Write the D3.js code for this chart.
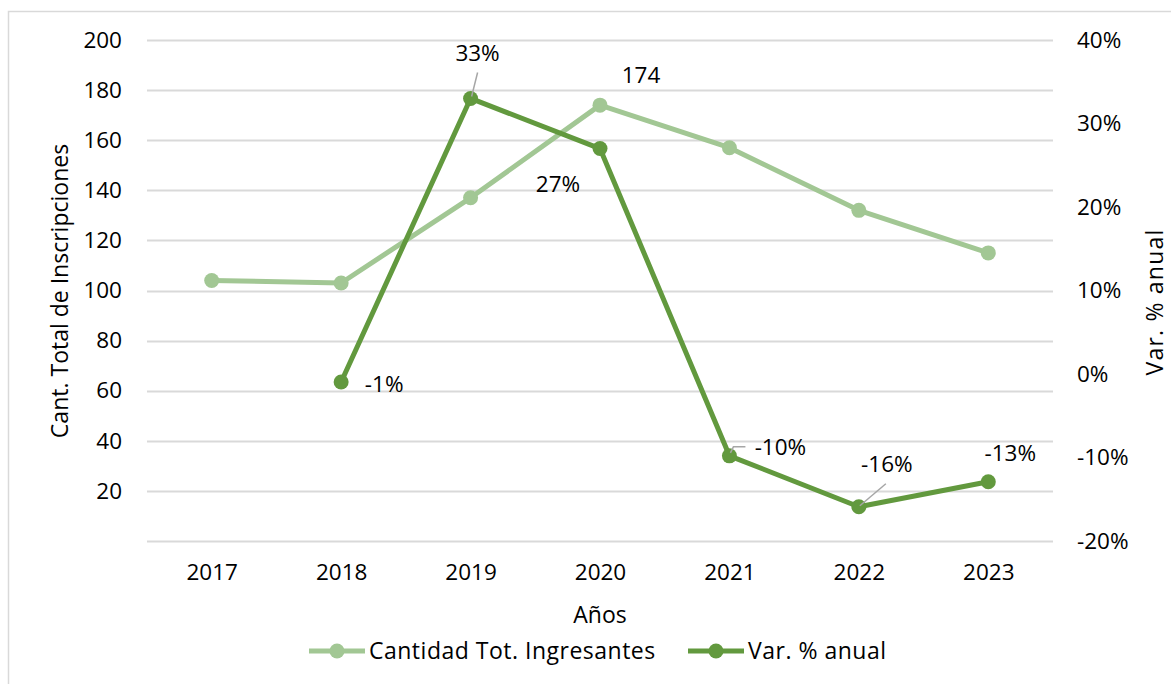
<!DOCTYPE html>
<html><head><meta charset="utf-8">
<script src="https://cdn.jsdelivr.net/npm/d3@7"></script>
<style>body{margin:0;background:#fff;} text{font-family:"Open Sans",Lato,sans-serif;fill:#000;}</style>
</head><body>
<svg id="c" width="1171" height="684"></svg>
<script>
const years = ["2017","2018","2019","2020","2021","2022","2023"];
const ingresantes = [104,103,137,174,157,132,115];
const varYears = ["2018","2019","2020","2021","2022","2023"];
const varAnual = [-0.0096,0.330,0.270,-0.098,-0.159,-0.129];
const leftTicks = [20,40,60,80,100,120,140,160,180,200];
const rightTicks = [-0.2,-0.1,0,0.1,0.2,0.3,0.4];
const seriesNames = ["Cantidad Tot. Ingresantes","Var. % anual"];
const colors = ["#A2C794","#62993E"];

const pct = v => d3.format(".0%")(v).replace("\u2212","-");

const svg = d3.select("#c");
const W=1171,H=684;
const m={l:147,r:1053,t:40,b:541};
svg.append("path").attr("d",`M8.5,${H} V11.5 H${W}`).attr("fill","none").attr("stroke","#d9d9d9").attr("stroke-width",1.5);

const x = d3.scalePoint().domain(years).range([m.l,m.r]).padding(0.5);
const yL = d3.scaleLinear().domain([0,200]).range([m.b,m.t]);
const yR = d3.scaleLinear().domain([-0.2,0.4]).range([m.b,m.t]);

svg.append("g").selectAll("line").data([0].concat(leftTicks)).join("line")
  .attr("x1",m.l).attr("x2",m.r).attr("y1",d=>Math.round(yL(d))+0.5).attr("y2",d=>Math.round(yL(d))+0.5)
  .attr("stroke","#d9d9d9").attr("stroke-width",2);

const fs=22.5, fw=23;
const gl = svg.append("g").attr("transform",`translate(${m.l-25},0)`)
  .call(d3.axisLeft(yL).tickValues(leftTicks).tickSize(0).tickPadding(0));
gl.select(".domain").remove();
gl.selectAll("text").style("font-size",fs+"px");
const gr = svg.append("g").attr("transform",`translate(${1077},0)`)
  .call(d3.axisRight(yR).tickValues(rightTicks).tickSize(0).tickPadding(0).tickFormat(pct));
gr.select(".domain").remove();
gr.selectAll("text").style("font-size",fs+"px");
const gb = svg.append("g").attr("transform",`translate(0,${m.b+23})`)
  .call(d3.axisBottom(x).tickSize(0).tickPadding(0));
gb.select(".domain").remove();
gb.selectAll("text").style("font-size",fs+"px");

svg.append("text").attr("transform","translate(68,291) rotate(-90)").attr("text-anchor","middle").style("font-size",fw+"px").text("Cant. Total de Inscripciones");
svg.append("text").attr("transform","translate(1163,302) rotate(-90)").attr("text-anchor","middle").style("font-size",fw+"px").style("letter-spacing","1.2px").text("Var. % anual");
svg.append("text").attr("x",600).attr("y",623).attr("text-anchor","middle").style("font-size",fw+"px").text("Años");

const l1 = d3.line().x((d,i)=>x(years[i])).y(d=>yL(d));
svg.append("path").datum(ingresantes).attr("d",l1).attr("fill","none").attr("stroke",colors[0]).attr("stroke-width",5).attr("stroke-linejoin","round");
svg.append("g").selectAll("circle").data(ingresantes).join("circle")
  .attr("cx",(d,i)=>x(years[i])).attr("cy",d=>yL(d)).attr("r",7.5).attr("fill",colors[0]);

const l2 = d3.line().x((d,i)=>x(varYears[i])).y(d=>yR(d));
svg.append("path").datum(varAnual).attr("d",l2).attr("fill","none").attr("stroke",colors[1]).attr("stroke-width",5).attr("stroke-linejoin","round");
svg.append("g").selectAll("circle").data(varAnual).join("circle")
  .attr("cx",(d,i)=>x(varYears[i])).attr("cy",d=>yR(d)).attr("r",7.5).attr("fill",colors[1]);

const lab = svg.append("g").style("font-size",fs+"px");
const i20 = years.indexOf("2020");
lab.append("text").attr("x",x("2020")+41).attr("y",yL(ingresantes[i20])-22).attr("text-anchor","middle").text(d3.format("d")(ingresantes[i20]));
const varLabelOffsets = [[43,2],[7,-45],[-42,35],[51,-9],[28,-43],[22,-29]];
varAnual.forEach((v,i)=>{
  const px=x(varYears[i]), py=yR(v), o=varLabelOffsets[i];
  lab.append("text").attr("x",px+o[0]).attr("y",py+o[1]+8).attr("text-anchor","middle").text(pct(v));
});
const p19=[x("2019"),yR(varAnual[1])], p21=[x("2021"),yR(varAnual[3])], p22=[x("2022"),yR(varAnual[4])];
svg.append("path").attr("d",`M${p19[0]+1},${p19[1]-2} L${p19[0]+7},${p19[1]-26}`).attr("stroke","#a6a6a6").attr("stroke-width",1.5).attr("fill","none");
svg.append("path").attr("d",`M${p21[0]+1},${p21[1]-3} L${p21[0]+4},${p21[1]-9} H${p21[0]+16}`).attr("stroke","#a6a6a6").attr("stroke-width",1.5).attr("fill","none");
svg.append("path").attr("d",`M${p22[0]+1},${p22[1]-1} L${p22[0]+27},${p22[1]-23}`).attr("stroke","#a6a6a6").attr("stroke-width",1.5).attr("fill","none");

const lg = svg.append("g");
const legendItems = [{x:309,name:seriesNames[0],c:colors[0]},{x:688,name:seriesNames[1],c:colors[1]}];
legendItems.forEach(it=>{
  lg.append("line").attr("x1",it.x).attr("x2",it.x+56).attr("y1",651).attr("y2",651).attr("stroke",it.c).attr("stroke-width",5);
  lg.append("circle").attr("cx",it.x+28).attr("cy",651).attr("r",7.5).attr("fill",it.c);
  lg.append("text").attr("x",it.x+60).attr("y",659).style("font-size",fw+"px").style("letter-spacing","0.5px").text(it.name);
});
</script>
</body></html>
